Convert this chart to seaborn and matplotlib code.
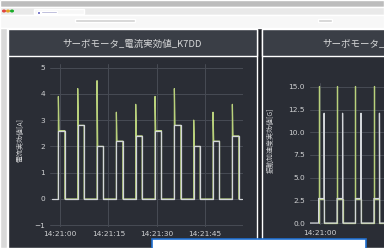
import matplotlib
matplotlib.use("Agg")
import matplotlib.pyplot as plt
import matplotlib.dates as mdates
from matplotlib.patches import Rectangle, Circle
import seaborn as sns
import pandas as pd

W, H = 384, 248
DAY = "2024-01-01 "

# ---- data ----
spike_times = ["14:20:59.5", "14:21:05.5", "14:21:11.5", "14:21:17.5", "14:21:23.5",
               "14:21:29.5", "14:21:35.5", "14:21:41.5", "14:21:47.5", "14:21:53.5"]
current_peak = [3.9, 4.2, 4.5, 3.3, 3.6, 3.9, 4.2, 3.0, 3.3, 3.6]
current_rms = [2.6, 2.8, 2.0, 2.2, 2.4, 2.6, 2.8, 2.0, 2.2, 2.4]
left_range = ["14:20:57.5", "14:21:56.5"]

vib_peak = [15.1, 15.1, 15.1, 15.1, 15.1, 15.1, 15.1, 15.1, 15.1, 15.1]
vib_second = [12.1, 12.1, 12.1, 12.1, 12.1, 12.1, 12.1, 12.1, 12.1, 12.1]
vib_base = [2.7, 2.7, 2.7, 2.7, 2.7, 2.7, 2.7, 2.7, 2.7, 2.7]
right_range = ["14:20:56.7", "14:21:59.5"]

left_title = "サーボモータ_電流実効値_K7DD"
left_ylabel = "電流実効値[A]"
right_title = "サーボモータ_"   # the rest runs off the screenshot
right_ylabel = "振動加速度実効値[G]"

GREEN = "#b9d17c"
WHITE = "#d3d6da"
sec = pd.Timedelta(seconds=1)


def ts(s):
    return pd.Timestamp(DAY + s)


def current_frame():
    rows = [("rms", ts(left_range[0]), 0)]
    for t, p, r in zip(spike_times, current_peak, current_rms):
        t0 = ts(t)
        rows += [("peak", t0, 0), ("peak", t0, p), ("peak", t0 + 0.2 * sec, r),
                 ("peak", t0 + 2 * sec, r), ("peak", t0 + 2 * sec, 0)]
        rows += [("rms", t0, 0), ("rms", t0, r), ("rms", t0 + 2 * sec, r),
                 ("rms", t0 + 2 * sec, 0)]
    rows.append(("rms", ts(left_range[1]), 0))
    return pd.DataFrame(rows, columns=["series", "time", "value"])


def vib_frame():
    rows = [("rms", ts(right_range[0]), 0)]
    for t, p, s, b in zip(spike_times, vib_peak, vib_second, vib_base):
        t0 = ts(t)
        rows += [("peak", t0, 0), ("peak", t0, p), ("peak", t0, b),
                 ("peak", t0 + 1.8 * sec, b), ("peak", t0 + 1.8 * sec, 0)]
        rows += [("rms", t0, 0), ("rms", t0, b), ("rms", t0 + 1.8 * sec, b),
                 ("rms", t0 + 1.8 * sec, s), ("rms", t0 + 1.9 * sec, 0)]
    rows.append(("rms", ts(right_range[1]), 0))
    return pd.DataFrame(rows, columns=["series", "time", "value"])


sns.set_theme(style="dark")
plt.rcParams["font.family"] = ["Noto Sans CJK JP", "DejaVu Sans"]

fig = plt.figure(figsize=(W / 100, H / 100), dpi=100)
fig.patch.set_facecolor("#1e2026")


def box(x, y, w, h, color, z=-5, **kw):
    fig.add_artist(Rectangle((x / W, 1 - (y + h) / H), w / W, h / H,
                             transform=fig.transFigure, facecolor=color,
                             zorder=z, **kw))


# browser chrome
box(0, 0, W, 7, "#bdbdbd")
box(0, 7, W, 8, "#e9e9e9")
box(0, 15, W, 13, "#f7f7f7")
box(0, 28, 7, H - 28, "#d9d9d9")
box(34, 9, 50, 5, "#f7f7f7")
box(37, 10.5, 3, 3, "#3b3bb0")
box(41, 11, 16, 2, "#9a9ac8")
box(75, 19, 60, 3, "#d0d0d0")
box(318, 19, 14, 3, "#d0d0d0")
for i, c in enumerate(["#e0443e", "#dea123", "#1aab29"]):
    fig.add_artist(Circle(((4 + 4 * i) / W, 1 - 11 / H), 1.3 / W,
                          transform=fig.transFigure, color=c, zorder=-4))
# panels
box(8, 29, 249, H - 29, "#2a2d35")
box(8, 29, 249, 27, "#3a3e46")
box(262, 29, 130, H - 29, "#2a2d35")
box(262, 29, 130, 27, "#3a3e46")

fig.text(132 / W, 1 - 44 / H, left_title, ha="center", va="center",
         fontsize=6.8, color="#d8d9da")
fig.text(322 / W, 1 - 44 / H, right_title, ha="left", va="center",
         fontsize=6.8, color="#d8d9da")
fig.text(20 / W, 1 - 140 / H, left_ylabel, ha="center", va="center",
         rotation=90, fontsize=5, color="#cfd0d2")
fig.text(271 / W, 1 - 140 / H, right_ylabel, ha="center", va="center",
         rotation=90, fontsize=5, color="#cfd0d2")

pal = {"peak": GREEN, "rms": WHITE}

# ---- left panel: current ----
ax1 = fig.add_axes([50 / W, (H - 226.6) / H, 193 / W, 163 / H])
sns.lineplot(data=current_frame(), x="time", y="value", hue="series",
             hue_order=["peak", "rms"], palette=pal, sort=False, estimator=None,
             legend=False, linewidth=0.9, ax=ax1)
ax1.set_xlim(ts("14:20:56.9"), ts("14:21:56.8"))
ax1.set_ylim(-1.05, 5.15)
ax1.set_yticks([-1, 0, 1, 2, 3, 4, 5])
ax1.xaxis.set_major_locator(mdates.SecondLocator(bysecond=[0, 15, 30, 45]))

# ---- right panel: vibration ----
ax2 = fig.add_axes([310 / W, (H - 225.3) / H, 193 / W, 142 / H])
sns.lineplot(data=vib_frame(), x="time", y="value", hue="series",
             hue_order=["peak", "rms"], palette=pal, sort=False, estimator=None,
             legend=False, linewidth=0.9, ax=ax2)
ax2.set_xlim(ts("14:20:56.7"), ts("14:21:59.5"))
ax2.set_ylim(-0.25, 15.4)
ax2.set_yticks([0, 2.5, 5, 7.5, 10, 12.5, 15])
ax2.yaxis.set_major_formatter(matplotlib.ticker.FormatStrFormatter("%.1f"))
ax2.xaxis.set_major_locator(mdates.SecondLocator(bysecond=[0]))

for ax in (ax1, ax2):
    ax.set_facecolor("none")
    ax.set_xlabel("")
    ax.set_ylabel("")
    ax.xaxis.set_major_formatter(mdates.DateFormatter("%H:%M:%S"))
    ax.grid(True, color="#474b54", linewidth=0.7)
    ax.tick_params(length=0, labelsize=5.3, labelcolor="#d0d1d3", pad=3.5)
    for s in ax.spines.values():
        s.set_visible(False)
    for lab in ax.get_xticklabels() + ax.get_yticklabels():
        lab.set_fontfamily("DejaVu Sans")

# popup strip at the bottom
box(152, 239, 214, 12, "white", z=10, edgecolor="#1f6fd1", linewidth=1.2)

fig.savefig("out.png", dpi=100, facecolor=fig.get_facecolor())
